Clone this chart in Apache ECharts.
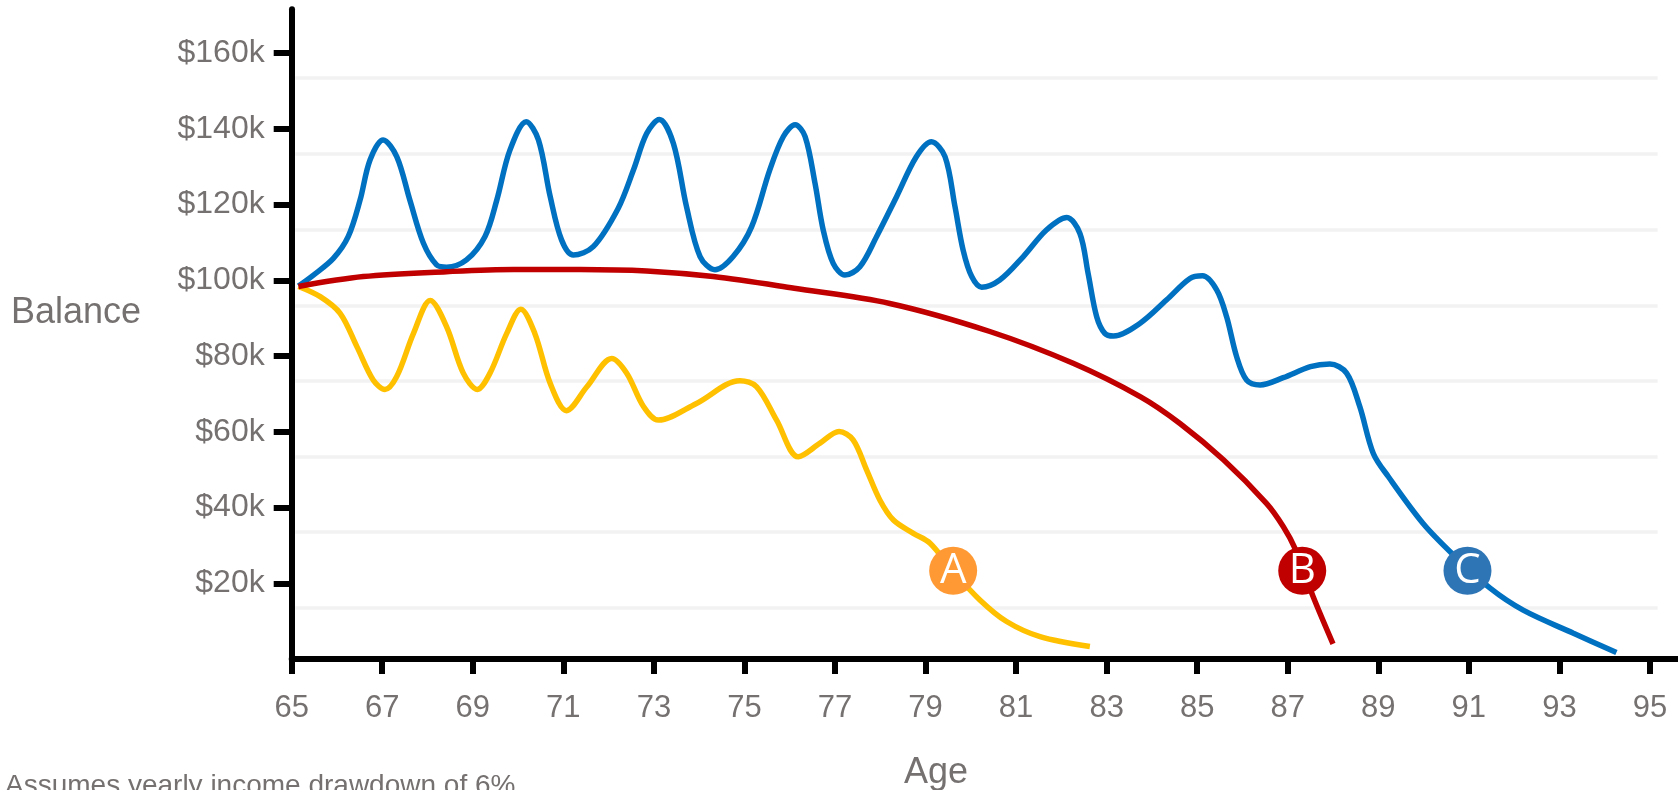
<!DOCTYPE html>
<html>
<head>
<meta charset="utf-8">
<script src="https://cdn.jsdelivr.net/npm/echarts@6/dist/echarts.min.js"></script>
<style>
html,body{margin:0;padding:0;background:#fff;}
#chart{width:1678px;height:790px;}
</style>
</head>
<body>
<div id="chart"></div>
<script>
// ---- Data (balances in $ thousands) ----
const xTicks = [65,67,69,71,73,75,77,79,81,83,85,87,89,91,93,95];
const yTicks = [20,40,60,80,100,120,140,160];
const gridLineValues = [13.5,33.5,53.4,73.4,93.2,113.3,133.4,153.5];

const agesA = [65.15,65.63,66.07,66.44,66.8,67.06,67.32,67.69,68.06,68.42,68.79,69.1,69.38,69.75,70.06,70.37,70.71,71.07,71.52,72.07,72.4,72.77,73.1,73.94,74.9,75.27,75.71,76.19,76.67,77.09,77.4,77.7,77.99,78.29,78.73,79.1,79.61,80.2,80.79,81.53,82.63];
const balancesA = [98.4,95.7,91.3,82.5,73.7,71.2,74.6,86.0,94.7,87.8,75.5,71.2,75.5,86.0,92.4,86.0,72.8,65.6,71.9,79.4,75.5,66.7,63.1,67.5,73.5,71.9,63.1,53.4,57.0,60.1,57.9,49.9,42.0,36.7,33.2,30.6,23.2,15.6,9.9,5.9,3.3];

const agesB = [65.15,66.58,68.42,69.9,71.37,72.84,74.31,76.1,78.21,80.42,82.26,83.74,84.62,85.58,86.53,86.9,87.16,87.56,88.0];
const balancesB = [98.4,101.0,102.3,102.9,102.9,102.5,101.0,97.9,93.9,86.5,78.1,69.3,62.2,52.6,41.1,35.0,29.2,16.5,4.0];

const agesC = [65.15,65.48,65.92,66.25,66.51,66.73,67.02,67.32,67.61,67.91,68.2,68.42,68.86,69.27,69.53,69.82,70.18,70.45,70.71,70.96,71.22,71.66,72.21,72.55,72.84,73.12,73.43,73.72,74.02,74.35,74.75,75.16,75.56,75.86,76.12,76.34,76.56,76.74,76.96,77.22,77.55,77.92,78.36,78.8,79.13,79.43,79.65,79.83,80.02,80.24,80.64,81.16,81.67,82.12,82.41,82.59,82.78,82.96,83.15,83.74,84.32,84.84,85.12,85.43,85.65,85.87,86.09,86.39,86.9,87.5,87.93,88.3,88.59,88.89,89.22,89.99,90.66,91.47,92.2,93.31,94.26];
const balancesC = [98.5,101.4,105.8,111.6,121.2,131.8,137.1,132.7,121.2,109.8,104.1,103.5,105.4,111.6,121.2,134.4,141.9,137.1,122.1,110.7,106.7,108.9,119.0,129.2,138.8,142.5,136.2,119.5,106.3,102.8,106.3,114.2,129.2,138.0,141.1,138.0,125.6,113.3,104.5,101.4,103.6,111.6,122.1,132.7,136.6,132.7,119.5,108.0,101.0,98.2,100.1,106.3,113.3,116.6,112.4,101.9,90.4,86.0,85.3,88.7,94.8,100.5,101.2,97.5,90.4,79.9,73.7,72.4,74.3,77.2,77.9,75.5,66.7,54.3,48.2,35.8,27.5,18.7,12.9,6.8,1.7];

const markerLetters = ['A','B','C'];
const markerAges = [79.61,87.32,90.97];
const markerBalances = [23.3,23.3,23.3];

// ---- Styling ----
const colorA = '#FFC000', colorB = '#C00000', colorC = '#0070C0';
const markerColors = ['#FF9933','#C00000','#2E75B6'];
const textGray = '#767171';
const font = '"Liberation Sans", Arial, Helvetica, sans-serif';
const smoothness = 0.33;

function zip(xs, ys){ return xs.map((x,i)=>[x, ys[i]]); }

const chart = echarts.init(document.getElementById('chart'), null, {renderer:'canvas'});

const gridStartAge = 65.08, gridEndAge = 95.17;

const option = {
  animation: false,
  backgroundColor: '#ffffff',
  grid: { left: 291.7, right: 0, top: 9.3, bottom: 131, containLabel: false, outerBoundsMode: 'none' },
  xAxis: {
    type: 'value', min: 65, max: 95.62,
    axisLine: { show: true, onZero: false, lineStyle: { color: '#000', width: 6 } },
    axisTick: { show: true, customValues: xTicks, length: 15, lineStyle: { color: '#000', width: 6 } },
    axisLabel: { customValues: xTicks, color: textGray, fontSize: 31, fontFamily: font, margin: 34 },
    splitLine: { show: false }
  },
  yAxis: {
    type: 'value', min: 0, max: 171.6,
    axisLine: { show: true, onZero: false, lineStyle: { color: '#000', width: 6 } },
    axisTick: { show: true, customValues: yTicks, length: 18, lineStyle: { color: '#000', width: 6 } },
    axisLabel: { customValues: yTicks, color: textGray, fontSize: 32, fontFamily: font, margin: 27,
      formatter: v => '$' + v + 'k' },
    splitLine: { show: false }
  },
  graphic: [
    { type: 'text', left: 11, top: 313 - 18, style: { text: 'Balance', fill: textGray, font: '36px ' + font } },
    { type: 'text', x: 936, y: 773, style: { text: 'Age', fill: textGray, font: '36px ' + font, textAlign: 'center', textVerticalAlign: 'middle' } },
    { type: 'text', x: 5, y: 786, style: { text: 'Assumes yearly income drawdown of 6%', fill: textGray, font: '28px ' + font, textAlign: 'left', textVerticalAlign: 'middle' } }
  ],
  series: [
    {
      type: 'line', data: [], silent: true, z: 1,
      markLine: {
        silent: true, symbol: ['none','none'], z: 1,
        label: { show: false },
        lineStyle: { color: '#F2F2F2', width: 3.5, type: 'solid' },
        data: gridLineValues.map(v => [{ coord: [gridStartAge, v] }, { coord: [gridEndAge, v] }])
      }
    },
    { name: 'A', type: 'line', data: zip(agesA, balancesA), smooth: smoothness, showSymbol: false, z: 3,
      lineStyle: { color: colorA, width: 5.5 } },
    { name: 'C', type: 'line', data: zip(agesC, balancesC), smooth: smoothness, showSymbol: false, z: 3,
      lineStyle: { color: colorC, width: 5.5 } },
    { name: 'B', type: 'line', data: zip(agesB, balancesB), smooth: smoothness, showSymbol: false, z: 4,
      lineStyle: { color: colorB, width: 5.5 } },
    { name: 'markers', type: 'scatter', z: 10, symbol: 'circle', symbolSize: 48,
      data: markerLetters.map((l, i) => ({
        value: [markerAges[i], markerBalances[i]], name: l,
        itemStyle: { color: markerColors[i], opacity: 1 }
      })),
      label: { show: true, position: 'inside', formatter: p => p.name, color: '#fff',
        fontSize: 42, fontFamily: '"Open Sans", "Noto Sans", sans-serif' }
    }
  ]
};
chart.setOption(option);
</script>
</body>
</html>
